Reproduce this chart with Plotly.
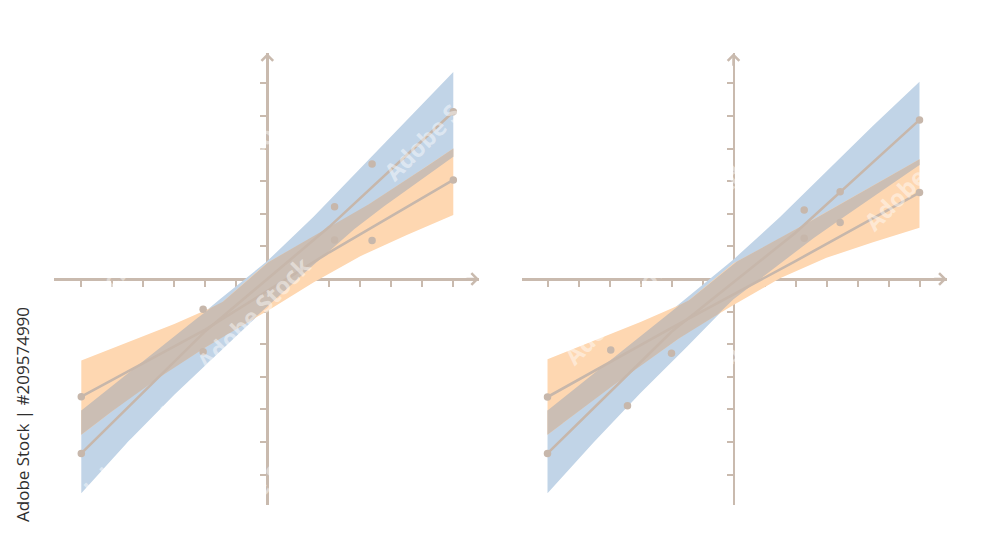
import numpy as np
import plotly.graph_objects as go

# ---------------- data ----------------
BAND_X = [-6, -4.5, -3, -1.5, 0, 1.5, 3, 4.5, 6]

# left panel
L_BLUE_UP = [-4.03, -2.90, -1.79, -0.60, 0.55, 1.92, 3.39, 4.88, 6.35]
L_BLUE_LO = [-6.57, -5.00, -3.55, -2.20, -0.85, 0.45, 1.69, 2.75, 3.75]
L_ORNG_UP = [-2.50, -1.95, -1.38, -0.75, 0.50, 1.30, 2.12, 3.05, 4.00]
L_ORNG_LO = [-4.78, -3.69, -2.70, -1.80, -0.98, -0.10, 0.70, 1.35, 1.96]
L_LINE_X = [-6, -2, 2, 6]
L_LINE1_Y = [-5.35, -1.60, 1.60, 5.13]
L_LINE2_Y = [-3.61, -1.55, 0.82, 3.04]
L_DOT_X = [-6, -6, -2.07, -2.07, 2.17, 2.17, 3.38, 3.38, 6, 6]
L_DOT_Y = [-5.35, -3.61, -0.93, -2.23, 2.22, 1.20, 3.53, 1.18, 5.13, 3.04]

# right panel
R_BLUE_UP = [-4.03, -2.90, -1.74, -0.58, 0.60, 1.90, 3.31, 4.70, 6.05]
R_BLUE_LO = [-6.57, -5.00, -3.50, -2.08, -0.62, 0.48, 1.55, 2.50, 3.50]
R_ORNG_UP = [-2.46, -1.90, -1.32, -0.70, 0.48, 1.25, 2.05, 2.87, 3.67]
R_ORNG_LO = [-4.78, -3.70, -2.65, -1.65, -0.80, 0.02, 0.65, 1.13, 1.57]
R_LINE_X = [-6, -2, 2, 6]
R_LINE1_Y = [-5.35, -1.62, 1.42, 4.88]
R_LINE2_Y = [-3.62, -1.50, 0.55, 2.65]
R_DOT_X = [-6, -6, -3.96, -3.42, -2.0, 2.28, 2.28, 3.44, 3.44, 6, 6]
R_DOT_Y = [-3.62, -5.35, -2.18, -3.89, -2.28, 2.12, 1.25, 1.73, 2.68, 4.88, 2.65]

TICKS = [-6, -5, -4, -3, -2, -1, 1, 2, 3, 4, 5, 6]

CREDIT = "Adobe Stock | #209574990"
WATERMARK = "Adobe Stock"
# watermark centres in pixels (x, y)
WM_POS = [(107, 123), (237, 163), (353, 66), (440, 123), (73, 317), (253, 313),
          (407, 340), (123, 457), (263, 483), (457, 473), (567, 173), (770, 140),
          (687, 66), (920, 173), (620, 307), (743, 340), (920, 323), (593, 483),
          (787, 473), (935, 470)]

# ---------------- style ----------------
BLUE = "#c1d4e7"
ORANGE = "#fed7b1"
OVERLAP = "#cbbeb4"
LINEC = "#c7b7ab"
AXISC = "#c9baae"

W, H = 1000, 558

fig = go.Figure()


def add_panel(xa, ya, bu, bl, ou, ol, lx, l1, l2, dx, dy):
    common = dict(xaxis=xa, yaxis=ya, hoverinfo="skip", showlegend=False)
    fig.add_trace(go.Scatter(x=BAND_X + BAND_X[::-1], y=bu + bl[::-1], fill="toself",
                             fillcolor=BLUE, mode="lines", line=dict(width=0), **common))
    fig.add_trace(go.Scatter(x=BAND_X + BAND_X[::-1], y=ou + ol[::-1], fill="toself",
                             fillcolor=ORANGE, mode="lines", line=dict(width=0), **common))
    xf = np.linspace(BAND_X[0], BAND_X[-1], 481)
    gu = np.minimum(np.interp(xf, BAND_X, bu), np.interp(xf, BAND_X, ou))
    gl = np.maximum(np.interp(xf, BAND_X, bl), np.interp(xf, BAND_X, ol))
    ok = gu >= gl
    mid = (gu + gl) / 2
    gu = np.where(ok, gu, mid)
    gl = np.where(ok, gl, mid)
    fig.add_trace(go.Scatter(x=np.concatenate([xf, xf[::-1]]), y=np.concatenate([gu, gl[::-1]]),
                             fill="toself", fillcolor=OVERLAP, mode="lines", line=dict(width=0), **common))
    for ly in (l1, l2):
        fig.add_trace(go.Scatter(x=lx, y=ly, mode="lines", line=dict(color=LINEC, width=2.6), **common))
    fig.add_trace(go.Scatter(x=dx, y=dy, mode="markers",
                             marker=dict(color=LINEC, size=7.5, line=dict(width=0)), **common))


add_panel("x", "y", L_BLUE_UP, L_BLUE_LO, L_ORNG_UP, L_ORNG_LO, L_LINE_X, L_LINE1_Y, L_LINE2_Y, L_DOT_X, L_DOT_Y)
add_panel("x2", "y2", R_BLUE_UP, R_BLUE_LO, R_ORNG_UP, R_ORNG_LO, R_LINE_X, R_LINE1_Y, R_LINE2_Y, R_DOT_X, R_DOT_Y)

# pixel geometry of the two panels
panels = [
    dict(ox=267.3, x0=54.0, x1=479.0),
    dict(ox=733.5, x0=521.7, x1=946.7),
]
OY, Y0, Y1 = 279.0, 53.3, 505.0
UX, UY = 31.0, 32.6

axis_common = dict(showline=True, linecolor=AXISC, linewidth=2.6, ticks="outside", ticklen=6,
                   tickwidth=2, tickcolor=AXISC, tickmode="array", tickvals=TICKS,
                   showticklabels=False, showgrid=False, zeroline=False, layer="below traces",
                   anchor="free", fixedrange=True)

annotations = []
for i, p in enumerate(panels):
    sx = "" if i == 0 else "2"
    xr = [(p["x0"] - p["ox"]) / UX, (p["x1"] - p["ox"]) / UX]
    yr = [(OY - Y1) / UY, (OY - Y0) / UY]
    fig.layout["xaxis" + sx] = dict(domain=[p["x0"] / W, p["x1"] / W], range=xr,
                                    position=1 - OY / H, **axis_common)
    fig.layout["yaxis" + sx] = dict(domain=[1 - Y1 / H, 1 - Y0 / H], range=yr,
                                    position=p["ox"] / W, **axis_common)
    # arrow heads
    annotations.append(dict(xref="x" + sx, yref="y" + sx, x=xr[1], y=0, ax=-14, ay=0,
                            text="", showarrow=True, arrowhead=4, arrowsize=0.9,
                            arrowwidth=2.5, arrowcolor=AXISC))
    annotations.append(dict(xref="x" + sx, yref="y" + sx, x=0, y=yr[1], ax=0, ay=14,
                            text="", showarrow=True, arrowhead=4, arrowsize=0.9,
                            arrowwidth=2.5, arrowcolor=AXISC))

for (px, py) in WM_POS:
    annotations.append(dict(xref="paper", yref="paper", x=px / W, y=1 - py / H,
                            text="<b>" + WATERMARK + "</b>", showarrow=False, textangle=-45,
                            font=dict(family="Open Sans", size=24, color="rgba(255,255,255,0.45)"),
                            xanchor="center", yanchor="middle"))

annotations.append(dict(xref="paper", yref="paper", x=22 / W, y=1 - 415 / H,
                        text=CREDIT, showarrow=False, textangle=-90,
                        font=dict(family="Open Sans", size=17, color="#2e2e2e"),
                        xanchor="center", yanchor="middle"))

fig.update_layout(width=W, height=H, margin=dict(l=0, r=0, t=0, b=0),
                  paper_bgcolor="white", plot_bgcolor="rgba(0,0,0,0)",
                  showlegend=False, annotations=annotations)

fig.write_html("out.html", config={"displayModeBar": False, "staticPlot": True},
               post_script="document.body.style.margin='0';document.body.style.overflow='hidden';")
